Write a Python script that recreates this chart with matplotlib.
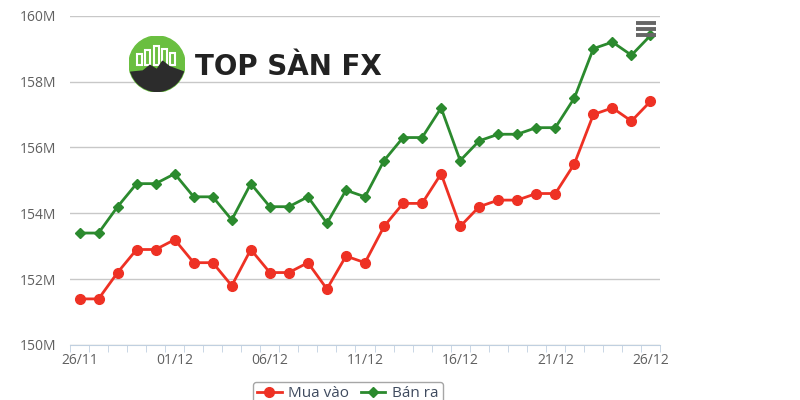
import matplotlib
matplotlib.use("Agg")
import matplotlib.pyplot as plt
from matplotlib.patches import Circle, Polygon, Rectangle
from matplotlib.ticker import FuncFormatter, MultipleLocator

# days 26/11 .. 26/12
dates = ["26/11", "27/11", "28/11", "29/11", "30/11", "01/12", "02/12", "03/12",
         "04/12", "05/12", "06/12", "07/12", "08/12", "09/12", "10/12", "11/12",
         "12/12", "13/12", "14/12", "15/12", "16/12", "17/12", "18/12", "19/12",
         "20/12", "21/12", "22/12", "23/12", "24/12", "25/12", "26/12"]
mua_vao = [151.4, 151.4, 152.2, 152.9, 152.9, 153.2, 152.5, 152.5, 151.8, 152.9,
           152.2, 152.2, 152.5, 151.7, 152.7, 152.5, 153.6, 154.3, 154.3, 155.2,
           153.6, 154.2, 154.4, 154.4, 154.6, 154.6, 155.5, 157.0, 157.2, 156.8, 157.4]
ban_ra = [153.4, 153.4, 154.2, 154.9, 154.9, 155.2, 154.5, 154.5, 153.8, 154.9,
          154.2, 154.2, 154.5, 153.7, 154.7, 154.5, 155.6, 156.3, 156.3, 157.2,
          155.6, 156.2, 156.4, 156.4, 156.6, 156.6, 157.5, 159.0, 159.2, 158.8, 159.4]
label_every = 5

RED = "#ee3124"
GREEN = "#2b8a2e"
W, H = 800, 400

plt.rcParams["font.family"] = ["Open Sans", "DejaVu Sans"]

fig = plt.figure(figsize=(8, 4), dpi=100)
ax = fig.add_axes([70 / W, 1 - 345 / H, 590 / W, (345 - 15.7) / H])

x = list(range(len(dates)))
ax.plot(x, mua_vao, color=RED, lw=2, marker="o", ms=7, label="Mua vào", zorder=3)
ax.plot(x, ban_ra, color=GREEN, lw=2, marker="D", ms=5, label="Bán ra", zorder=3)

ax.set_xlim(-0.5, len(dates) - 0.5)
ax.set_ylim(150, 160)
ax.yaxis.set_major_locator(MultipleLocator(2))
ax.yaxis.set_major_formatter(FuncFormatter(lambda v, p: f"{v:.0f}M"))
ax.grid(axis="y", color="#c8c8c8", lw=1)
ax.set_axisbelow(True)

ax.set_xticks(x[::label_every])
ax.set_xticklabels(dates[::label_every])
ax.set_xticks([i - 0.5 for i in range(len(dates) + 1)], minor=True)
ax.tick_params(axis="x", which="major", length=0, pad=6, labelsize=10, labelcolor="#606060")
ax.tick_params(axis="x", which="minor", length=5, color="#c0d0e0")
ax.tick_params(axis="y", length=0, pad=10, labelsize=10, labelcolor="#606060")

for s in ["top", "right", "left"]:
    ax.spines[s].set_visible(False)
ax.spines["bottom"].set_color("#c0d0e0")

leg = fig.legend(loc="upper left", bbox_to_anchor=(245 / W, 1 - 374 / H), ncol=2,
                 frameon=True, fontsize=11, handlelength=1.6, columnspacing=0.8,
                 handletextpad=0.4, borderpad=0.3, fancybox=True)
leg.get_frame().set_edgecolor("#909090")
leg.get_frame().set_linewidth(1)
for t in leg.get_texts():
    t.set_color("#3e4a5e")

# hamburger menu icon
for yy in (23, 29, 35):
    fig.add_artist(plt.Line2D([636 / W, 656 / W], [1 - yy / H, 1 - yy / H],
                              color="#666666", lw=2.8, solid_capstyle="butt"))

# logo
lax = fig.add_axes([129 / W, 1 - 92 / H, 56 / W, 56 / H])
lax.set_xlim(-1, 1)
lax.set_ylim(-1, 1)
lax.set_aspect("equal")
lax.axis("off")
circ = Circle((0, 0), 1, color="#6abf40")
lax.add_patch(circ)
for bx, bh in [(-0.72, 0.4), (-0.42, 0.55), (-0.12, 0.7), (0.18, 0.6), (0.48, 0.45)]:
    r = Rectangle((bx, -0.05), 0.18, bh, facecolor="none", edgecolor="white",
                  lw=1.5, zorder=2)
    r.set_clip_path(circ)
    lax.add_patch(r)
mount = Polygon([(-1, -0.3), (-0.5, -0.25), (-0.25, -0.05), (0.0, -0.2), (0.2, 0.1),
                 (0.45, -0.1), (1, -0.3), (1, -1), (-1, -1)], closed=True,
                color="#2c2c2c", zorder=3)
mount.set_clip_path(circ)
lax.add_patch(mount)
fig.text(195 / W, 1 - 67 / H, "TOP SÀN FX", fontsize=20, fontweight="bold",
         family="DejaVu Sans", color="#222222", va="center", ha="left")

fig.savefig("out.png", dpi=100, facecolor="white")
